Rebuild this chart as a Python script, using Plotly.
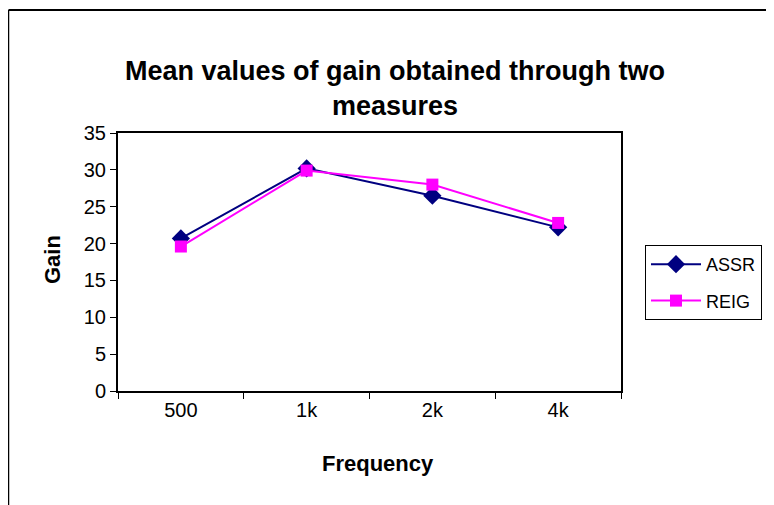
import plotly.graph_objects as go

categories = ["500", "1k", "2k", "4k"]
assr = [20.7, 30.2, 26.5, 22.2]
reig = [19.6, 29.9, 28.0, 22.8]

W, H = 774, 505
OFF = 8  # page body margin offset
L, R, T, B = 118 - OFF, 621 - OFF, 133 - OFF, 391 - OFF

def px(x):
    return (x - OFF - L) / (R - L)

def py(y):
    return (B - (y - OFF)) / (B - T)

fig = go.Figure()
fig.add_trace(go.Scatter(
    x=categories, y=assr, name="ASSR", mode="lines+markers", legendgroup="a",
    line=dict(color="#000080", width=2),
    marker=dict(symbol="diamond", size=14, color="#000080"),
))
fig.add_trace(go.Scatter(
    x=categories, y=reig, name="REIG", mode="lines+markers", legendgroup="b",
    line=dict(color="#FF00FF", width=2),
    marker=dict(symbol="square", size=12, color="#FF00FF"),
))

font = "Liberation Sans, Arial, sans-serif"
fig.update_layout(
    width=W, height=H,
    margin=dict(l=L, r=W - R, t=T, b=H - B, pad=0),
    paper_bgcolor="white", plot_bgcolor="white",
    font=dict(family=font, size=19, color="black"),
    title=dict(
        text="<b>Mean values of gain obtained through two<br>measures</b>",
        x=px(395), xanchor="center", xref="paper",
        y=1 - (80 - OFF) / H, yanchor="middle",
        font=dict(size=27, family=font, color="black"),
    ),
    xaxis=dict(
        type="category", range=[-0.5, 3.5],
        showline=True, mirror=True, linecolor="black", linewidth=2,
        ticks="outside", tickson="boundaries", ticklen=6, tickcolor="black", tickwidth=1,
        showgrid=False, zeroline=False,
        tickfont=dict(size=20),
    ),
    yaxis=dict(
        range=[0, 35], dtick=5,
        showline=True, mirror=True, linecolor="black", linewidth=2,
        ticks="outside", ticklen=6, tickcolor="black", tickwidth=1,
        showgrid=False, zeroline=False,
        tickfont=dict(size=20),
    ),
    legend=dict(
        x=px(645), y=py(245), xanchor="left", yanchor="top",
        bordercolor="black", borderwidth=1, bgcolor="white",
        font=dict(size=18), tracegroupgap=10, itemwidth=50,
    ),
    showlegend=True,
)

fig.add_annotation(text="<b>Frequency</b>", xref="paper", yref="paper",
                   x=px(378), y=py(463), xanchor="center", yanchor="middle",
                   showarrow=False, font=dict(size=22))
fig.add_annotation(text="<b>Gain</b>", xref="paper", yref="paper",
                   x=px(52), y=py(260), xanchor="center", yanchor="middle",
                   textangle=-90, showarrow=False, font=dict(size=22))

# outer chart frame (top and left edges visible)
fig.add_shape(type="line", xref="paper", yref="paper",
              x0=px(8.5), x1=px(790), y0=py(10), y1=py(10),
              line=dict(color="black", width=2))
fig.add_shape(type="line", xref="paper", yref="paper",
              x0=px(8.5), x1=px(8.5), y0=py(10), y1=py(520),
              line=dict(color="black", width=1.5))

fig.write_html("out.html")
